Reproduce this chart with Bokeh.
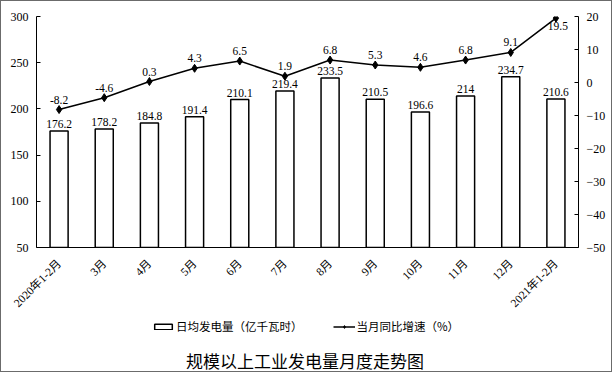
import math
from bokeh.plotting import figure
from bokeh.layouts import column
from bokeh.models import (ColumnDataSource, Range1d, LinearAxis, FixedTicker,
                          Legend, LegendItem, Label)
from bokeh.core.properties import value
from bokeh.embed import file_html
from bokeh.resources import INLINE

categories = ["2020年1-2月", "3月", "4月", "5月", "6月", "7月", "8月",
              "9月", "10月", "11月", "12月", "2021年1-2月"]
daily_output = [176.2, 178.2, 184.8, 191.4, 210.1, 219.4, 233.5,
                210.5, 196.6, 214, 234.7, 210.6]
yoy_growth = [-8.2, -4.6, 0.3, 4.3, 6.5, 1.9, 6.8, 5.3, 4.6, 6.8, 9.1, 19.5]
bar_labels = ["176.2", "178.2", "184.8", "191.4", "210.1", "219.4", "233.5",
              "210.5", "196.6", "214", "234.7", "210.6"]
growth_labels = ["-8.2", "-4.6", "0.3", "4.3", "6.5", "1.9", "6.8", "5.3",
                 "4.6", "6.8", "9.1", "19.5"]
left_ticks = [50, 100, 150, 200, 250, 300]
right_ticks = [-50, -40, -30, -20, -10, 0, 10, 20]
series_names = ["日均发电量（亿千瓦时）", "当月同比增速（%）"]
chart_title = "规模以上工业发电量月度走势图"

NUM_FONT = "'Liberation Serif', 'Noto Sans CJK SC'"
CJK_FONT = "'Noto Sans CJK SC'"

src = ColumnDataSource(dict(cat=categories, val=daily_output, lab=bar_labels))
last = len(categories) - 1
src_rate = ColumnDataSource(dict(cat=categories, rate=yoy_growth, lab=growth_labels))
src_rate_top = ColumnDataSource(dict(cat=categories[:last], rate=yoy_growth[:last],
                                     lab=growth_labels[:last]))
src_rate_last = ColumnDataSource(dict(cat=categories[last:], rate=yoy_growth[last:],
                                      lab=growth_labels[last:]))

p = figure(x_range=categories, y_range=Range1d(50, 300),
           width=610, height=305, frame_width=542, frame_height=231,
           min_border_left=35, min_border_right=33, min_border_top=15,
           min_border_bottom=59,
           output_backend="svg", toolbar_location=None, title=None)
p.extra_y_ranges = {"rate": Range1d(-50, 20)}
p.outline_line_color = None
p.xgrid.grid_line_color = None
p.ygrid.grid_line_color = None
p.background_fill_color = "white"
p.border_fill_color = "white"

bar_style = dict(fill_color="white", line_color="black", line_width=1.5)
line_style = dict(line_color="black", line_width=1.5)
pt_style = dict(marker="diamond", size=8, fill_color="black", line_color="black")

p.vbar(x="cat", top="val", bottom=50, width=0.4, source=src, **bar_style)
p.text(x="cat", y="val", text="lab", source=src, text_align="center",
       text_baseline="bottom", y_offset=-3, text_font=value(NUM_FONT),
       text_font_size="11.5px", text_color="black")

p.line(x="cat", y="rate", source=src_rate, y_range_name="rate", **line_style)
p.scatter(x="cat", y="rate", source=src_rate, y_range_name="rate", **pt_style)
p.text(x="cat", y="rate", text="lab", source=src_rate_top, y_range_name="rate",
       text_align="center", text_baseline="bottom", y_offset=-6,
       text_font=value(NUM_FONT), text_font_size="11.5px", text_color="black")
p.text(x="cat", y="rate", text="lab", source=src_rate_last, y_range_name="rate",
       text_align="center", text_baseline="top", y_offset=4, x_offset=2,
       text_font=value(NUM_FONT), text_font_size="11.5px", text_color="black")

# left axis
ya = p.yaxis[0]
ya.ticker = FixedTicker(ticks=left_ticks)
ya.major_tick_in = 4
ya.major_tick_out = 0
ya.minor_tick_line_color = None
ya.axis_line_color = "black"
ya.major_tick_line_color = "black"
ya.major_label_text_font = NUM_FONT
ya.major_label_text_font_size = "12px"
ya.major_label_text_color = "black"
ya.major_label_standoff = 8

# right axis
ra = LinearAxis(y_range_name="rate", ticker=FixedTicker(ticks=right_ticks))
ra.major_tick_in = 4
ra.major_tick_out = 0
ra.minor_tick_line_color = None
ra.axis_line_color = "black"
ra.major_tick_line_color = "black"
ra.major_label_text_font = NUM_FONT
ra.major_label_text_font_size = "12px"
ra.major_label_text_color = "black"
ra.major_label_standoff = 8
p.add_layout(ra, "right")

# bottom axis
xa = p.xaxis[0]
xa.major_label_orientation = math.pi / 4
xa.major_tick_line_color = None
xa.axis_line_color = "black"
xa.major_label_text_font = NUM_FONT
xa.major_label_text_font_size = "11.5px"
xa.major_label_text_color = "black"
xa.major_label_standoff = 8

# legend + title strip
q = figure(width=610, height=55, x_range=Range1d(0, 1), y_range=Range1d(0, 1),
           x_axis_type=None, y_axis_type=None,
           min_border=0, output_backend="svg", toolbar_location=None, title=None)
q.grid.visible = False
q.outline_line_color = None
q.background_fill_color = "white"
q.border_fill_color = "white"
nan = float("nan")
legend_src = ColumnDataSource(dict(x=[nan], y=[nan]))
lb = q.vbar(x="x", top="y", width=0.1, source=legend_src, **bar_style)
ll = q.line(x="x", y="y", source=legend_src, **line_style)
lp = q.scatter(x="x", y="y", source=legend_src, **dict(pt_style, size=6))

legend = Legend(items=[LegendItem(label=series_names[0], renderers=[lb]),
                       LegendItem(label=series_names[1], renderers=[ll, lp])],
                orientation="horizontal", location=(116, 37),
                label_text_font=CJK_FONT, label_text_font_size="11.5px",
                label_text_color="black", glyph_width=22, glyph_height=7,
                label_height=14, spacing=30, label_standoff=2,
                border_line_color=None, background_fill_alpha=0,
                padding=0, margin=0)
q.add_layout(legend, "center")

title = Label(x=268.5, y=11, x_units="screen", y_units="screen",
              text=chart_title, text_align="center",
              text_baseline="middle", text_font=CJK_FONT, text_font_size="17px",
              text_color="black")
q.add_layout(title)

layout = column(p, q, spacing=0, styles={"border": "1px solid #6b6b6b"})
open("out.html", "w").write(file_html(layout, INLINE))
